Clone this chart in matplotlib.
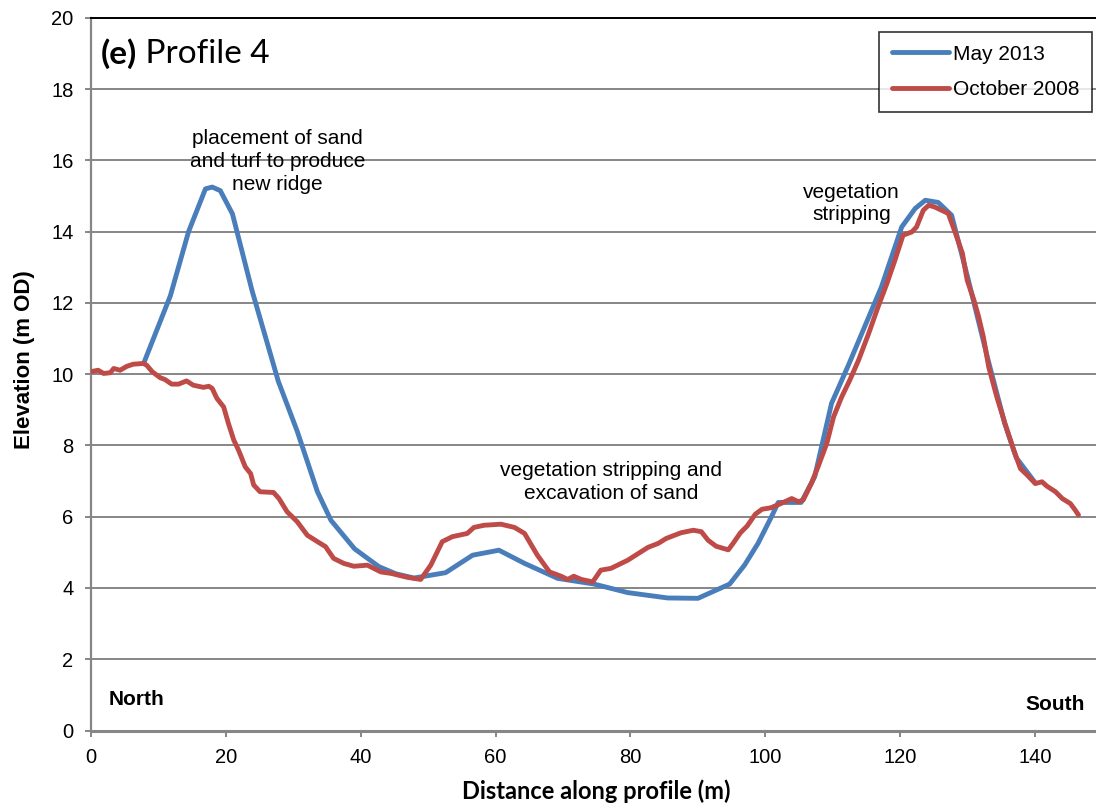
import matplotlib
matplotlib.use("Agg")
import matplotlib.pyplot as plt

# Beach profile 4: surveyed elevation along the transect
may2013_dist = [7.9, 11.8, 14.5, 17.0, 18.0, 19.2, 21.0, 23.9, 27.8, 30.6, 33.6, 35.6,
                39.1, 42.7, 45.2, 47.9, 48.9, 52.6, 56.6, 60.5, 64.3, 69.2, 74.6,
                79.6, 85.5, 90.0, 94.7, 96.9, 98.9, 100.9, 101.9, 105.3, 107.3,
                109.8, 112.3, 117.2, 120.2, 122.2, 123.7, 125.6, 127.6, 130.0,
                133.0, 135.5, 137.2, 140.0]
may2013_elev = [10.33, 12.2, 14.0, 15.2, 15.25, 15.15, 14.5, 12.35, 9.8, 8.4, 6.7, 5.9,
                5.1, 4.6, 4.4, 4.28, 4.31, 4.43, 4.92, 5.06, 4.69, 4.27, 4.11,
                3.87, 3.72, 3.71, 4.11, 4.64, 5.25, 6.0, 6.4, 6.4, 7.12,
                9.18, 10.25, 12.45, 14.13, 14.65, 14.88, 14.82, 14.46, 12.7,
                10.4, 8.6, 7.65, 6.95]

oct2008_dist = [0.0, 1.1, 1.9, 2.9, 3.4, 4.35, 5.35, 6.3, 7.8, 8.3, 9.1, 10.3, 11.0,
                12.0, 13.0, 14.2, 15.2, 16.7, 17.5, 18.0, 18.7, 19.7, 20.4, 21.2,
                21.9, 22.9, 23.7, 24.15, 25.1, 27.1, 27.9, 29.1, 30.6, 32.1, 33.6,
                34.8, 36.0, 37.5, 39.0, 41.0, 43.0, 44.5, 46.9, 48.9, 50.4, 52.1,
                53.6, 55.8, 56.8, 58.3, 60.8, 62.8, 64.3, 66.2, 68.0, 69.7, 70.7,
                71.6, 72.7, 74.4, 75.6, 77.1, 79.6, 80.6, 82.6, 84.1, 85.3, 87.5,
                89.3, 90.5, 91.5, 92.7, 94.5, 95.2, 96.3, 97.3, 98.5, 99.5, 100.8,
                102.3, 103.9, 104.9, 105.6, 106.8, 107.8, 109.1, 110.1, 111.3,
                112.5, 113.8, 115.3, 116.7, 118.0, 119.2, 120.4, 121.7, 122.4,
                123.4, 124.2, 125.1, 126.1, 127.1, 128.1, 129.2, 129.9, 130.9,
                131.6, 132.3, 133.1, 134.3, 135.5, 136.8, 137.8, 138.8, 140.0,
                141.0, 141.7, 143.0, 144.0, 145.2, 145.9, 146.4]
oct2008_elev = [10.07, 10.11, 10.02, 10.04, 10.16, 10.11, 10.22, 10.28, 10.3, 10.25,
                10.07, 9.9, 9.85, 9.72, 9.72, 9.81, 9.69, 9.63, 9.66, 9.6, 9.32,
                9.08, 8.62, 8.15, 7.87, 7.4, 7.21, 6.89, 6.7, 6.68, 6.51, 6.14,
                5.86, 5.48, 5.3, 5.16, 4.83, 4.69, 4.61, 4.64, 4.45, 4.41, 4.3,
                4.24, 4.64, 5.3, 5.44, 5.53, 5.7, 5.76, 5.79, 5.7, 5.53, 4.92,
                4.45, 4.33, 4.24, 4.33, 4.24, 4.17, 4.5, 4.55, 4.78, 4.9, 5.14,
                5.25, 5.39, 5.55, 5.62, 5.58, 5.34, 5.17, 5.07, 5.25, 5.55, 5.74,
                6.07, 6.21, 6.25, 6.37, 6.51, 6.42, 6.47, 6.93, 7.4, 8.06, 8.8,
                9.36, 9.83, 10.39, 11.14, 11.89, 12.54, 13.2, 13.9, 13.99, 14.13,
                14.6, 14.74, 14.69, 14.6, 14.51, 13.99, 13.39, 12.64, 12.08,
                11.61, 11.05, 10.2, 9.36, 8.62, 7.87, 7.35, 7.17, 6.93, 6.98,
                6.86, 6.7, 6.51, 6.37, 6.19, 6.05]

series_labels = ["May 2013", "October 2008"]
x_ticks = [0, 20, 40, 60, 80, 100, 120, 140]
y_ticks = [0, 2, 4, 6, 8, 10, 12, 14, 16, 18, 20]

BLUE = "#4a7ebb"
RED = "#be4b48"
GRID = "#868686"
SANS = "Liberation Sans"

fig = plt.figure(figsize=(10.96, 8.09), dpi=100)
ax = fig.add_axes([0.0828, 0.097, 0.9172, 0.881])

ax.plot(may2013_dist, may2013_elev, color=BLUE, lw=3.5, label=series_labels[0],
        solid_capstyle="round", solid_joinstyle="round", zorder=3)
ax.plot(oct2008_dist, oct2008_elev, color=RED, lw=3.5, label=series_labels[1],
        solid_capstyle="round", solid_joinstyle="round", zorder=4)

ax.set_xlim(0, 149)
ax.set_ylim(0, 20)
ax.set_xticks(x_ticks)
ax.set_yticks(y_ticks)
ax.yaxis.grid(True, color=GRID, lw=1.4)
ax.set_axisbelow(True)

for side in ("left", "bottom"):
    ax.spines[side].set_color(GRID)
ax.spines["left"].set_linewidth(1.6)
ax.spines["bottom"].set_linewidth(2.2)
ax.spines["top"].set_color("black")
ax.spines["top"].set_linewidth(1.4)
ax.spines["right"].set_visible(False)

ax.tick_params(axis="both", which="major", color=GRID, width=1.4, length=4.5,
               labelsize=14.5, labelcolor="black", pad=8)
for lbl in ax.get_xticklabels() + ax.get_yticklabels():
    lbl.set_family(SANS)

ax.set_ylabel("Elevation (m OD)", family=SANS, fontweight="bold", fontsize=16)
ax.yaxis.set_label_coords(-0.055, 0.52)
ax.set_xlabel("Distance along profile (m)", family="Lato", fontweight="bold",
              fontsize=17)
ax.xaxis.set_label_coords(0.5026, -0.068)

# panel title: bold tag followed by regular text
tag = ax.text(0.0095, 0.935, "(e)", transform=ax.transAxes, family="Lato",
              fontweight="bold", fontsize=24, va="baseline", ha="left")
ax.annotate(" Profile 4", xy=(1, 0), xycoords=tag, family="Lato", fontsize=24,
            va="bottom", ha="left")

ann_kw = dict(family=SANS, fontsize=15, ha="center", va="center", linespacing=1.25)
ax.text(27.7, 15.97, "placement of sand\nand turf to produce\nnew ridge", **ann_kw)
ax.text(77.1, 6.97, "vegetation stripping and\nexcavation of sand", **ann_kw)
ax.text(112.8, 14.79, "vegetation\nstripping", **ann_kw)

ax.text(2.58, 0.86, "North", family=SANS, fontweight="bold", fontsize=15,
        ha="left", va="center")
ax.text(147.4, 0.72, "South", family=SANS, fontweight="bold", fontsize=15,
        ha="right", va="center")

leg = ax.legend(loc="upper right", bbox_to_anchor=(0.996, 0.98), frameon=True,
                fancybox=False, edgecolor="black", handlelength=2.75,
                handletextpad=0.2, borderpad=0.6, borderaxespad=0,
                labelspacing=0.8, prop={"family": SANS, "size": 15})
leg.get_frame().set_linewidth(1.2)

fig.savefig("out.png", dpi=100)
